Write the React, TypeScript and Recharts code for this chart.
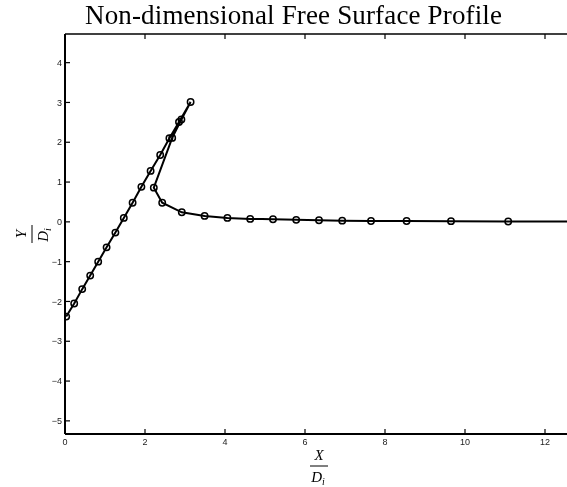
import React from 'react';
import { ScatterChart, Scatter, XAxis, YAxis } from 'recharts';

// Non-dimensional free surface profile (X/Di, Y/Di), in drawing order
const profileX = [
  0.03, 0.23, 0.43, 0.63, 0.83, 1.04, 1.26, 1.47, 1.69, 1.91, 2.14, 2.38, 2.61, 2.85, 3.14,
  2.91, 2.68, 2.22, 2.43, 2.92, 3.49, 4.06, 4.63, 5.2, 5.78, 6.35, 6.93, 7.65, 8.54, 9.65, 11.08, 12.9, 14.9,
];
const profileY = [
  -2.38, -2.05, -1.69, -1.35, -1.0, -0.64, -0.27, 0.1, 0.48, 0.88, 1.28, 1.68, 2.1, 2.51, 3.01,
  2.57, 2.11, 0.86, 0.48, 0.24, 0.15, 0.1, 0.075, 0.065, 0.05, 0.04, 0.03, 0.022, 0.02, 0.018, 0.01, 0.006, 0.004,
];

const xTicks = [0, 2, 4, 6, 8, 10, 12];
const yTicks = [-5, -4, -3, -2, -1, 0, 1, 2, 3, 4];
const xDomain: [number, number] = [0, 12.55];
const yDomain: [number, number] = [-5.33, 4.72];

const titleText = 'Non-dimensional Free Surface Profile';

const profile = profileX.map((x, i) => ({ x, y: profileY[i] }));

const fmt = (v: number) => (v < 0 ? '\u2212' + Math.abs(v) : String(v));
const tickFont = "'Liberation Sans', Arial, sans-serif";
const serif = "'Liberation Serif', 'Times New Roman', Times, serif";

const XTick = (props: any) => {
  const { x, y, payload } = props;
  return (
    <g>
      <line x1={x} x2={x} y1={y} y2={y - 5} stroke="#000" strokeWidth={1.2} />
      <text x={x} y={y + 11} textAnchor="middle" style={{ fontSize: 9, fontFamily: tickFont }} fill="#222">
        {fmt(payload.value)}
      </text>
    </g>
  );
};

const TopTick = (props: any) => {
  const { x, y } = props;
  return <line x1={x} x2={x} y1={y} y2={y + 5} stroke="#000" strokeWidth={1.2} />;
};

const YTick = (props: any) => {
  const { x, y, payload } = props;
  return (
    <g>
      <line x1={x} x2={x + 5} y1={y} y2={y} stroke="#000" strokeWidth={1.2} />
      <text x={x - 3} y={y + 3.2} textAnchor="end" style={{ fontSize: 9, fontFamily: tickFont }} fill="#222">
        {fmt(payload.value)}
      </text>
    </g>
  );
};

const Marker = (props: any) => {
  const { cx, cy } = props;
  if (cx == null || cy == null) return <g />;
  return <circle cx={cx} cy={cy} r={3.2} fill="none" stroke="#000" strokeWidth={1.5} />;
};

const NoMarker = () => <g />;

export default function App() {
  return (
    <div style={{ position: 'relative', width: 551, height: 471 }}>
      <div style={{ position: 'fixed', left: 8, top: 8, width: 559, height: 479 }}>
        <ScatterChart width={559} height={479} margin={{ top: 25, right: 0, bottom: 0, left: 0 }}>
          <XAxis
            type="number"
            dataKey="x"
            domain={xDomain}
            ticks={xTicks}
            allowDataOverflow
            height={53}
            axisLine={{ stroke: '#000', strokeWidth: 2 }}
            tickLine={false}
            tickSize={0}
            tickMargin={0}
            tick={XTick}
          />
          <XAxis
            xAxisId="top"
            orientation="top"
            type="number"
            dataKey="x"
            domain={xDomain}
            ticks={xTicks}
            allowDataOverflow
            height={1}
            axisLine={{ stroke: '#000', strokeWidth: 1.4 }}
            tickLine={false}
            tickSize={0}
            tickMargin={0}
            tick={TopTick}
          />
          <YAxis
            type="number"
            dataKey="y"
            domain={yDomain}
            ticks={yTicks}
            allowDataOverflow
            width={57}
            axisLine={{ stroke: '#000', strokeWidth: 2 }}
            tickLine={false}
            tickSize={0}
            tickMargin={0}
            tick={YTick}
          />
          <Scatter
            xAxisId="top"
            data={profile}
            shape={NoMarker}
            legendType="none"
            isAnimationActive={false}
          />
          <Scatter
            data={profile}
            line={{ stroke: '#000', strokeWidth: 2 }}
            lineType="joint"
            shape={Marker}
            isAnimationActive={false}
          />
        </ScatterChart>
        <svg
          width={559}
          height={479}
          style={{ position: 'absolute', left: 0, top: 0, overflow: 'visible', pointerEvents: 'none' }}
        >
          <text
            x={285.5}
            y={16}
            textAnchor="middle"
            style={{ fontSize: 27, fontFamily: serif }}
            fill="#000"
            textLength={417}
            lengthAdjust="spacing"
          >
            {titleText}
          </text>
          <g style={{ fontFamily: serif, fontStyle: 'italic', fontSize: 15 }} fill="#000">
            <text x={311} y={452} textAnchor="middle">X</text>
            <line x1={302} x2={320} y1={458} y2={458} stroke="#000" strokeWidth={1} />
            <text x={310} y={474} textAnchor="middle">
              D<tspan style={{ fontSize: 10 }} dy={3}>i</tspan>
            </text>
          </g>
          <g
            style={{ fontFamily: serif, fontStyle: 'italic', fontSize: 15 }}
            fill="#000"
            transform="translate(24,226) rotate(-90)"
          >
            <text x={0} y={-6} textAnchor="middle">Y</text>
            <line x1={-9} x2={9} y1={0} y2={0} stroke="#000" strokeWidth={1} />
            <text x={-1} y={16} textAnchor="middle">
              D<tspan style={{ fontSize: 10 }} dy={3}>i</tspan>
            </text>
          </g>
        </svg>
      </div>
    </div>
  );
}
